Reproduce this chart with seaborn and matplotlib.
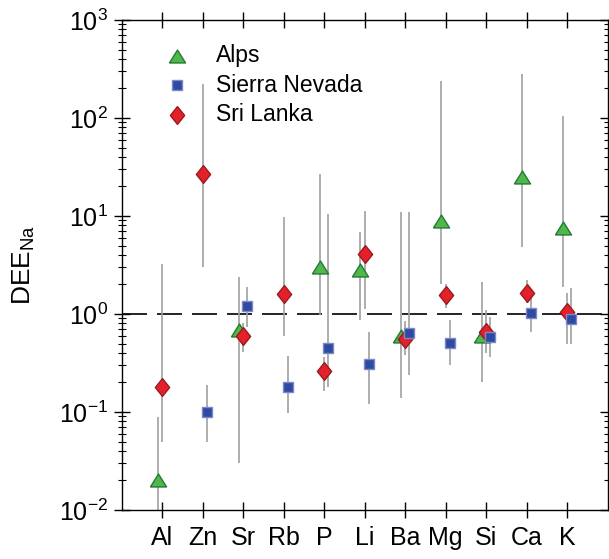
import numpy as np
import pandas as pd
import matplotlib
matplotlib.use("Agg")
import matplotlib.pyplot as plt
import seaborn as sns

ELEMENTS = ["Al", "Zn", "Sr", "Rb", "P", "Li", "Ba", "Mg", "Si", "Ca", "K"]

# DEE_Na central values with lower / upper range
ALPS_DEE = [0.020, np.nan, 0.69, np.nan, 3.0, 2.8, 0.59, 8.9, 0.59, 25.0, 7.6]
ALPS_LO  = [0.005, np.nan, 0.030, np.nan, 0.98, 0.86, 0.14, 2.0, 0.20, 4.8, 1.9]
ALPS_HI  = [0.088, np.nan, 2.4, np.nan, 27.0, 6.9, 11.0, 240.0, 2.1, 280.0, 105.0]

SIERRA_DEE = [np.nan, 0.10, 1.2, 0.18, 0.45, 0.31, 0.64, 0.51, 0.58, 1.03, 0.89]
SIERRA_LO  = [np.nan, 0.049, 0.74, 0.097, 0.18, 0.12, 0.24, 0.30, 0.36, 0.65, 0.49]
SIERRA_HI  = [np.nan, 0.19, 1.9, 0.37, 10.6, 0.65, 11.0, 0.87, 0.94, 1.5, 1.83]

SRI_DEE = [0.18, 27.0, 0.59, 1.6, 0.26, 4.1, 0.56, 1.55, 0.65, 1.65, 1.06]
SRI_LO  = [0.049, 3.0, 0.41, 0.59, 0.165, 1.12, 0.38, 1.15, 0.40, 1.3, 0.50]
SRI_HI  = [3.2, 220.0, 0.8, 9.8, 0.36, 11.3, 0.84, 2.0, 1.1, 2.2, 1.63]

Y_TICKS = [1e-2, 1e-1, 1e0, 1e1, 1e2, 1e3]
Y_TICKLABELS = ["10$^{-2}$", "10$^{-1}$", "10$^{0}$", "10$^{1}$", "10$^{2}$", "10$^{3}$"]

# drawing style per series: (offset, marker, size, face, edge)
TRI = [(-1, -0.8), (1, -0.8), (0, 0.8), (-1, -0.8)]
DIA = [(0, 1), (0.8, 0), (0, -1), (-0.8, 0), (0, 1)]
STYLE = {
    "Alps":          (-0.11, TRI, 135, "#4FB848", "#237A35"),
    "Sri Lanka":     (0.0,   DIA, 165, "#E4202A", "#9A1B1E"),
    "Sierra Nevada": (0.10,  "s", 55,  "#2D4BA2", "#8088C8"),
}


def build_frame():
    rows = []
    for name, dee, lo, hi in [("Alps", ALPS_DEE, ALPS_LO, ALPS_HI),
                              ("Sri Lanka", SRI_DEE, SRI_LO, SRI_HI),
                              ("Sierra Nevada", SIERRA_DEE, SIERRA_LO, SIERRA_HI)]:
        for i, el in enumerate(ELEMENTS):
            if np.isnan(dee[i]):
                continue
            rows.append({"series": name, "element": el, "idx": i,
                         "dee": dee[i], "lo": lo[i], "hi": hi[i]})
    df = pd.DataFrame(rows)
    df["xpos"] = df["idx"] + df["series"].map({k: v[0] for k, v in STYLE.items()})
    return df


def main():
    sns.set_style("ticks")
    plt.rcParams["font.family"] = ["Liberation Sans", "DejaVu Sans"]
    plt.rcParams["mathtext.fontset"] = "custom"
    plt.rcParams["mathtext.rm"] = "Liberation Sans"
    plt.rcParams["mathtext.it"] = "Liberation Sans:italic"
    for key in ["text.color", "axes.labelcolor", "xtick.color", "ytick.color",
                "axes.edgecolor"]:
        plt.rcParams[key] = "black"

    df = build_frame()

    fig = plt.figure(figsize=(6.09, 5.59), dpi=100)
    ax = fig.add_axes([122 / 609, 1 - 510 / 559, 485.5 / 609, 490 / 559])

    ax.axhline(1.0, color="black", lw=1.2, dashes=(15, 6), zorder=1)

    # grey range bars behind the markers
    ax.vlines(df["xpos"], df["lo"], df["hi"], color="#A0A0A0", lw=1.2, zorder=2)

    for name in ["Alps", "Sri Lanka", "Sierra Nevada"]:
        off, marker, size, face, edge = STYLE[name]
        sub = df[df["series"] == name]
        sns.scatterplot(data=sub, x="xpos", y="dee", marker=marker, s=size,
                        color=face, edgecolor=edge, linewidth=1.0,
                        label=name, ax=ax, zorder=3)

    ax.set_yscale("log")
    ax.set_ylim(1e-2, 1e3)
    ax.set_xlim(-1, 11)
    ax.set_yticks(Y_TICKS)
    ax.set_yticklabels(Y_TICKLABELS)
    ax.set_xticks(range(len(ELEMENTS)))
    ax.set_xticklabels(ELEMENTS)

    ax.tick_params(axis="both", which="major", direction="inout", width=1.0,
                   labelsize=18, colors="black")
    ax.tick_params(axis="x", which="major", length=11, top=True, pad=6)
    ax.tick_params(axis="y", which="major", length=12, right=True, pad=4)
    ax.tick_params(axis="y", which="minor", direction="inout", length=6,
                   width=0.8, right=True, colors="black")
    for side in ["left", "right", "top", "bottom"]:
        ax.spines[side].set_visible(True)
        ax.spines[side].set_linewidth(1.0)
        ax.spines[side].set_color("black")

    ax.set_xlabel("")
    ax.set_ylabel("DEE$_{\\mathrm{Na}}$", fontsize=19, labelpad=16)

    handles, labels = ax.get_legend_handles_labels()
    order = [labels.index(n) for n in ["Alps", "Sierra Nevada", "Sri Lanka"]]
    ax.legend([handles[i] for i in order], [labels[i] for i in order],
              loc="upper left", bbox_to_anchor=(0.07, 0.970), frameon=False,
              fontsize=16.5, handletextpad=1.2, labelspacing=0.29,
              handlelength=1.0, borderaxespad=0)

    fig.savefig("out.png", dpi=100)
    plt.close(fig)


if __name__ == "__main__":
    main()
